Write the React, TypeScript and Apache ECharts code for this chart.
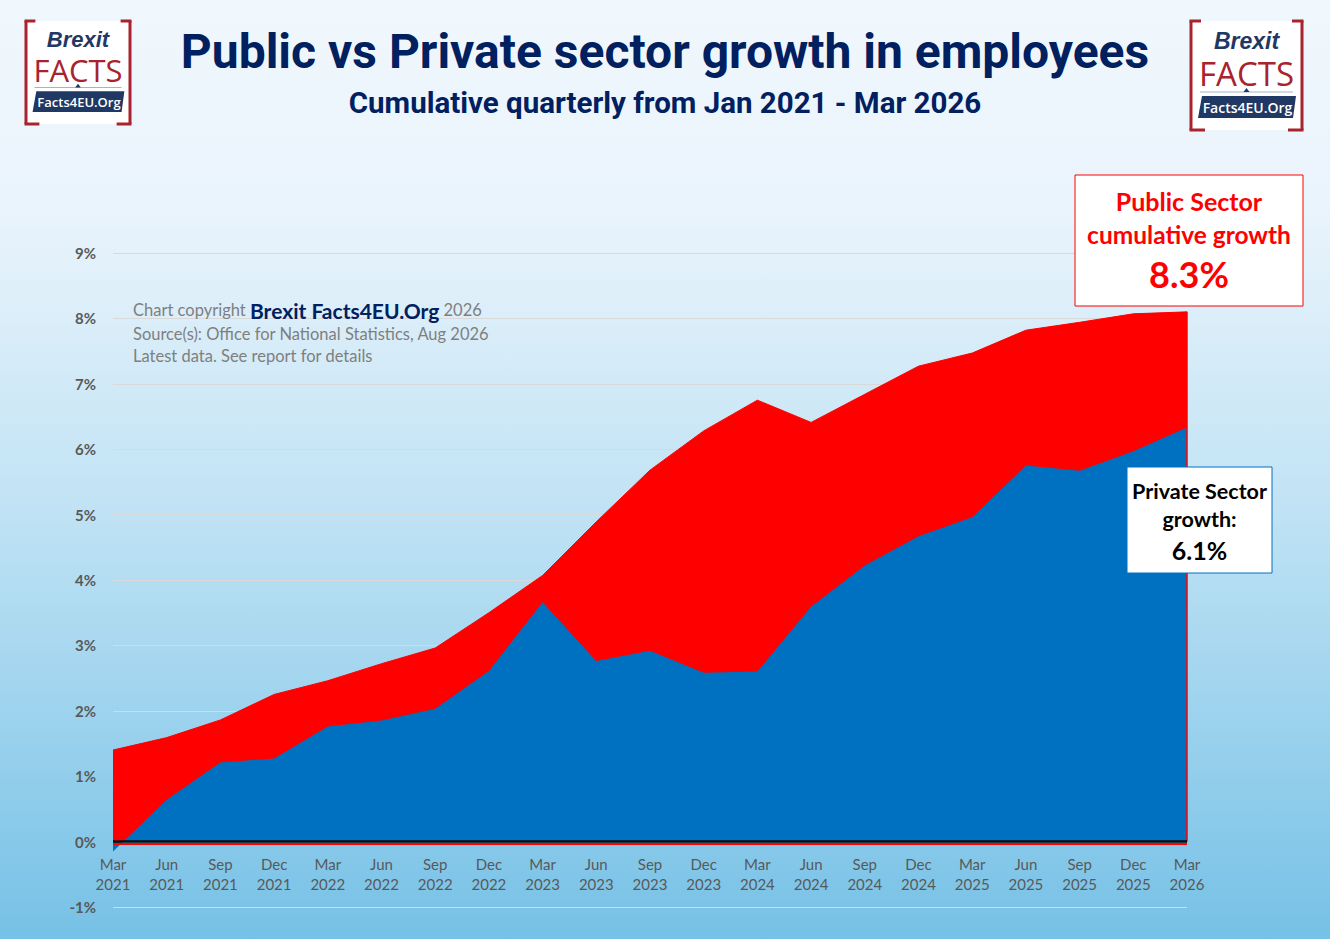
import React, { useEffect, useRef } from "react";
import * as echarts from "echarts";

const categories = [
  "Mar 2021", "Jun 2021", "Sep 2021", "Dec 2021",
  "Mar 2022", "Jun 2022", "Sep 2022", "Dec 2022",
  "Mar 2023", "Jun 2023", "Sep 2023", "Dec 2023",
  "Mar 2024", "Jun 2024", "Sep 2024", "Dec 2024",
  "Mar 2025", "Jun 2025", "Sep 2025", "Dec 2025",
  "Mar 2026",
];

const publicGrowth = [
  1.4, 1.59, 1.86, 2.25, 2.46, 2.72, 2.96, 3.5, 4.07, 4.89, 5.68,
  6.28, 6.75, 6.41, 6.84, 7.27, 7.47, 7.82, 7.94, 8.07, 8.1,
];

const privateGrowth = [
  -0.15, 0.64, 1.21, 1.27, 1.76, 1.85, 2.03, 2.61, 3.66, 2.76, 2.92,
  2.58, 2.6, 3.59, 4.22, 4.67, 4.96, 5.75, 5.67, 5.97, 6.33,
];

const yMin = -1;
const yMax = 9;
const yInterval = 1;

const titleText = "Public vs Private sector growth in employees";
const subtitleText = "Cumulative quarterly from Jan 2021 - Mar 2026";
const publicBoxLines = ["Public Sector", "cumulative growth", "8.3%"];
const privateBoxLines = ["Private Sector", "growth:", "6.1%"];
const creditLines = [
  "Source(s): Office for National Statistics, Aug 2026",
  "Latest data. See report for details",
];

const NAVY = "#002060";
const LOGO_RED = "#a8232d";
const LOGO_NAVY = "#1f3864";

const GRID_TOP = 253;
const GRID_BOTTOM = 32;
const CHART_H = 939;

function makeLogo(x: number, y: number, w: number, h: number) {
  const s = w / 111;
  const bw = 3;
  const seg = 10 * s;
  const line = (x1: number, y1: number, x2: number, y2: number) => ({
    type: "line",
    shape: { x1, y1, x2, y2 },
    style: { stroke: LOGO_RED, lineWidth: bw },
  });
  return {
    type: "group",
    x,
    y,
    z: 100,
    children: [
      { type: "rect", shape: { x: 0, y: 0, width: w, height: h }, style: { fill: "#ffffff" } },
      line(0, 0, 0, h),
      line(w, 0, w, h),
      line(-1.5, 0, seg, 0),
      line(w - seg, 0, w + 1.5, 0),
      line(-1.5, h, seg + 4, h),
      line(w - seg - 4, h, w + 1.5, h),
      {
        type: "text",
        x: w / 2,
        y: 19.5 * s,
        style: {
          text: "Brexit",
          fill: LOGO_NAVY,
          font: `italic bold ${Math.round(23 * s)}px "Liberation Sans", Arial, sans-serif`,
          textAlign: "center",
          textVerticalAlign: "middle",
        },
      },
      {
        type: "text",
        x: w / 2,
        y: 52 * s,
        style: {
          text: "FACTS",
          fill: LOGO_RED,
          font: `${Math.round(33 * s)}px "Open Sans", "Noto Sans", sans-serif`,
          textAlign: "center",
          textVerticalAlign: "middle",
        },
      },
      {
        type: "line",
        shape: { x1: 9 * s, y1: 71 * s, x2: w - 9 * s, y2: 71 * s },
        style: { stroke: "#9fb3cc", lineWidth: 1 },
      },
      {
        type: "polygon",
        shape: { points: [[w / 2 - 3 * s, 71 * s], [w / 2 + 3 * s, 71 * s], [w / 2, 67 * s]] },
        style: { fill: LOGO_NAVY },
      },
      {
        type: "polygon",
        shape: {
          points: [
            [11 * s, 75 * s],
            [w - 6 * s, 75 * s],
            [w - 9 * s, 97 * s],
            [7 * s, 97 * s],
          ],
        },
        style: { fill: LOGO_NAVY },
      },
      {
        type: "text",
        x: w / 2 + 1,
        y: 86.5 * s,
        style: {
          text: "Facts4EU.Org",
          fill: "#ffffff",
          font: `600 ${Math.round(14 * s)}px "Open Sans", "Noto Sans", sans-serif`,
          textAlign: "center",
          textVerticalAlign: "middle",
        },
      },
    ],
  };
}

function makeBox(
  x: number,
  y: number,
  w: number,
  h: number,
  border: string,
  color: string,
  lines: string[],
  ys: number[],
  sizes: number[]
) {
  return {
    type: "group",
    x,
    y,
    z: 100,
    children: [
      {
        type: "rect",
        z: 100,
        shape: { x: 0, y: 0, width: w, height: h },
        style: { fill: "#ffffff", stroke: border, lineWidth: 1 },
      },
      ...lines.map((t, i) => ({
        type: "text",
        z: 101,
        x: w / 2,
        y: ys[i],
        style: {
          text: t,
          fill: color,
          font: `bold ${sizes[i]}px Lato, "Noto Sans", sans-serif`,
          textAlign: "center",
          textVerticalAlign: "middle",
        },
      })),
    ],
  };
}

export default function App() {
  const ref = useRef<HTMLDivElement>(null);

  useEffect(() => {
    if (!ref.current) return;
    const chart = echarts.init(ref.current, null, { renderer: "svg" });
    const lastIdx = categories.length - 1;
    const labelFont = 'Lato, "Noto Sans", sans-serif';
    const gridH = CHART_H - GRID_TOP - GRID_BOTTOM;
    const pxPerUnit = gridH / (yMax - yMin);
    // place the category axis at the value 0 (distance from grid bottom)
    const zeroOffset = yMin * pxPerUnit;

    const option: any = {
      animation: false,
      backgroundColor: {
        type: "linear",
        x: 0,
        y: 0,
        x2: 0,
        y2: 1,
        colorStops: [
          { offset: 0, color: "#f0f7fd" },
          { offset: 0.22, color: "#eaf4fc" },
          { offset: 0.55, color: "#bfe2f4" },
          { offset: 1, color: "#76c1e6" },
        ],
      },
      grid: {
        left: 113,
        right: 143,
        top: GRID_TOP,
        bottom: GRID_BOTTOM,
        containLabel: false,
        outerBoundsMode: "none",
      },
      xAxis: {
        type: "category",
        data: categories,
        boundaryGap: false,
        position: "bottom",
        offset: zeroOffset,
        axisLine: { show: false, onZero: false },
        axisTick: { show: false },
        splitLine: { show: false },
        axisLabel: {
          interval: 0,
          formatter: (v: string) => v.replace(" ", "\n"),
          color: "#595959",
          fontSize: 15,
          lineHeight: 20,
          fontFamily: labelFont,
          margin: 12,
        },
      },
      yAxis: {
        type: "value",
        min: yMin,
        max: yMax,
        interval: yInterval,
        axisLine: { show: false },
        axisTick: { show: false },
        splitLine: { lineStyle: { color: "#d9d9d9", width: 1 } },
        axisLabel: {
          formatter: "{value}%",
          color: "#595959",
          fontSize: 15,
          fontWeight: "bold",
          fontFamily: labelFont,
          margin: 17,
        },
      },
      series: [
        {
          name: "Public Sector",
          type: "line",
          data: publicGrowth,
          symbol: "none",
          z: 2,
          lineStyle: { color: "#ff0000", width: 1 },
          areaStyle: { color: "#ff0000", opacity: 1, origin: 0 },
          markLine: {
            silent: true,
            symbol: "none",
            label: { show: false },
            data: [
              [
                { coord: [categories[lastIdx], 0] },
                { coord: [categories[lastIdx], publicGrowth[lastIdx]] },
              ],
            ],
            lineStyle: { color: "#ff0000", width: 1.5, type: "solid" },
          },
        },
        {
          name: "Private Sector",
          type: "line",
          data: privateGrowth,
          symbol: "none",
          z: 3,
          lineStyle: { color: "#0070c0", width: 0 },
          areaStyle: { color: "#0070c0", opacity: 1, origin: 0 },
          markLine: {
            silent: true,
            symbol: "none",
            label: { show: false },
            data: [
              [
                { coord: [categories[0], -0.035], lineStyle: { color: "#ff0000", width: 2, type: "solid" } },
                { coord: [categories[lastIdx], -0.035] },
              ],
              [
                { coord: [categories[0], 0.005], lineStyle: { color: "#0a0a0a", width: 2.5, type: "solid" } },
                { coord: [categories[lastIdx], 0.005] },
              ],
            ],
          },
        },
      ],
      graphic: [
        {
          type: "text",
          left: "center",
          top: 27,
          z: 100,
          style: {
            text: titleText,
            fill: NAVY,
            font: 'bold 48px Roboto, "Noto Sans", sans-serif',
          },
        },
        {
          type: "text",
          left: "center",
          top: 88,
          z: 100,
          style: {
            text: subtitleText,
            fill: NAVY,
            font: 'bold 29.5px Roboto, "Noto Sans", sans-serif',
          },
        },
        makeLogo(26, 21, 104, 103),
        makeLogo(1191, 21, 111, 109),
        {
          type: "text",
          x: 133,
          y: 310,
          z: 100,
          style: {
            text: "{a|Chart copyright }{b|Brexit Facts4EU.Org}{a| 2026}",
            textVerticalAlign: "middle",
            rich: {
              a: { fill: "#7f7f7f", fontSize: 16.5, fontFamily: labelFont },
              b: { fill: NAVY, fontSize: 21, fontWeight: "bold", fontFamily: labelFont },
            },
          },
        },
        ...creditLines.map((t, i) => ({
          type: "text",
          x: 133,
          y: 334 + i * 22,
          z: 100,
          style: {
            text: t,
            fill: "#7f7f7f",
            font: `16.5px ${labelFont}`,
            textVerticalAlign: "middle",
          },
        })),
        makeBox(1075, 175, 228, 131, "#ff0000", "#ff0000", publicBoxLines, [26, 59, 99], [25, 24.5, 36]),
        makeBox(1127, 467, 145, 106, "#0070c0", "#000000", privateBoxLines, [24, 52, 83], [21.5, 21.5, 25]),
      ],
    };

    chart.setOption(option);
    return () => chart.dispose();
  }, []);

  return (
    <div
      ref={ref}
      style={{ position: "fixed", left: 0, top: 0, width: 1330, height: 939 }}
    />
  );
}
